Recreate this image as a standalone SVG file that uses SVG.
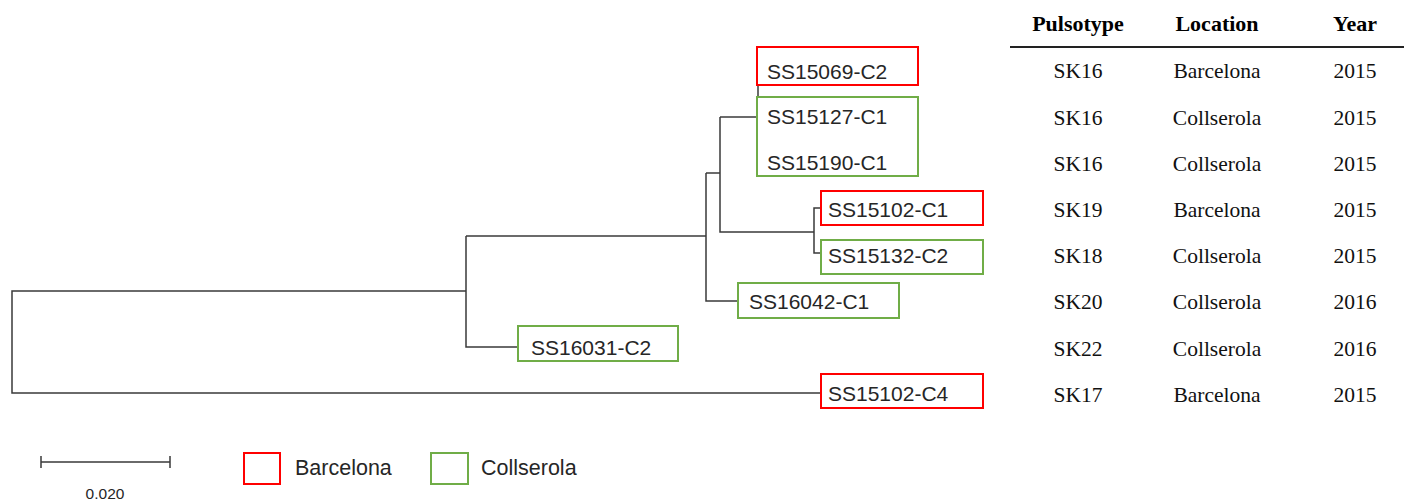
<svg xmlns="http://www.w3.org/2000/svg" width="1404" height="503" viewBox="0 0 1404 503">
<style>
.tree{fill:none;stroke:#3a3a3a;stroke-width:1.5}
.red{fill:none;stroke:#ff0000;stroke-width:2}
.green{fill:none;stroke:#70ad47;stroke-width:2}
.lbl{font-family:"Liberation Sans",Arial,sans-serif;font-size:21px;fill:#262626}
.tbl{font-family:"Liberation Serif","Times New Roman",serif;font-size:21.5px;fill:#111;text-anchor:middle}
.hdr{font-family:"Liberation Serif","Times New Roman",serif;font-size:22px;font-weight:bold;fill:#000;text-anchor:middle}
.leg{font-family:"Liberation Sans",Arial,sans-serif;font-size:21.5px;fill:#262626}
.scl{font-family:"Liberation Sans",Arial,sans-serif;font-size:15.5px;fill:#262626;text-anchor:middle}
</style>
<rect width="1404" height="503" fill="#fff"/>
<g id="connectors">
<path class="tree" d="M466,291 H12 V393 H821"/>
<path class="tree" d="M466,236 V347 H518"/>
<path class="tree" d="M466,236 H706"/>
<path class="tree" d="M706,173 V301 H738"/>
<path class="tree" d="M706,173 H720"/>
<path class="tree" d="M720,117 V232 H814"/>
<path class="tree" d="M720,117 H757"/>
<path class="tree" d="M758,86 V97"/>
<path class="tree" d="M821,208 H814 V253 H821"/>
</g>
<g id="node-SS15069-C2">
<rect class="red" x="757" y="47" width="161" height="38"/>
<text class="lbl" x="767" y="79">SS15069-C2</text>
</g>
<g id="node-SS15127-C1-SS15190-C1">
<rect class="green" x="757" y="97" width="161" height="79"/>
<text class="lbl" x="767" y="124">SS15127-C1</text>
<text class="lbl" x="767" y="170">SS15190-C1</text>
</g>
<g id="node-SS15102-C1">
<rect class="red" x="821" y="191" width="162" height="34"/>
<text class="lbl" x="828" y="217">SS15102-C1</text>
</g>
<g id="node-SS15132-C2">
<rect class="green" x="821" y="240" width="162" height="34"/>
<text class="lbl" x="828" y="263">SS15132-C2</text>
</g>
<g id="node-SS16042-C1">
<rect class="green" x="738" y="283" width="161" height="35"/>
<text class="lbl" x="749" y="309">SS16042-C1</text>
</g>
<g id="node-SS16031-C2">
<rect class="green" x="518" y="326" width="160" height="35"/>
<text class="lbl" x="531" y="355">SS16031-C2</text>
</g>
<g id="node-SS15102-C4">
<rect class="red" x="821" y="374" width="162" height="34"/>
<text class="lbl" x="828" y="401">SS15102-C4</text>
</g>
<g id="table">
<text class="hdr" x="1078" y="31">Pulsotype</text>
<text class="hdr" x="1217" y="31">Location</text>
<text class="hdr" x="1355" y="31">Year</text>
<line x1="1010" y1="47" x2="1404" y2="47" stroke="#222" stroke-width="2"/>
<text class="tbl" x="1078" y="78">SK16</text><text class="tbl" x="1217" y="78">Barcelona</text><text class="tbl" x="1355" y="78">2015</text>
<text class="tbl" x="1078" y="125">SK16</text><text class="tbl" x="1217" y="125">Collserola</text><text class="tbl" x="1355" y="125">2015</text>
<text class="tbl" x="1078" y="171">SK16</text><text class="tbl" x="1217" y="171">Collserola</text><text class="tbl" x="1355" y="171">2015</text>
<text class="tbl" x="1078" y="217">SK19</text><text class="tbl" x="1217" y="217">Barcelona</text><text class="tbl" x="1355" y="217">2015</text>
<text class="tbl" x="1078" y="263">SK18</text><text class="tbl" x="1217" y="263">Collserola</text><text class="tbl" x="1355" y="263">2015</text>
<text class="tbl" x="1078" y="309">SK20</text><text class="tbl" x="1217" y="309">Collserola</text><text class="tbl" x="1355" y="309">2016</text>
<text class="tbl" x="1078" y="356">SK22</text><text class="tbl" x="1217" y="356">Collserola</text><text class="tbl" x="1355" y="356">2016</text>
<text class="tbl" x="1078" y="402">SK17</text><text class="tbl" x="1217" y="402">Barcelona</text><text class="tbl" x="1355" y="402">2015</text>
</g>
<g id="scale-bar">
<path class="tree" d="M41,462 H170 M41,456 V468 M170,456 V468"/>
<text class="scl" x="105" y="499">0.020</text>
</g>
<g id="legend">
<rect class="red" x="244" y="453" width="36" height="31"/>
<text class="leg" x="295" y="475">Barcelona</text>
<rect class="green" x="431" y="453" width="37" height="31"/>
<text class="leg" x="481" y="475">Collserola</text>
</g>
</svg>
